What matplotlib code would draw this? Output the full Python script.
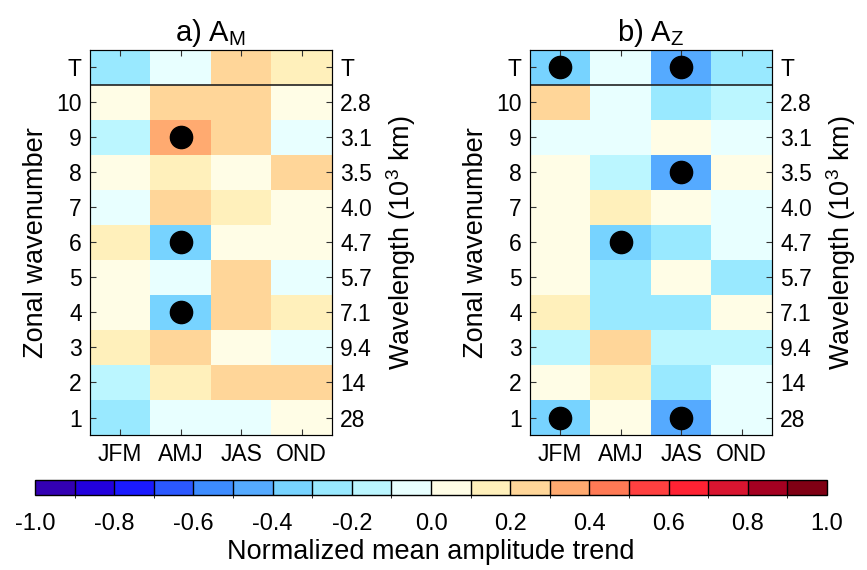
import matplotlib
matplotlib.use("Agg")
import matplotlib.pyplot as plt
import numpy as np
from matplotlib.colors import ListedColormap, BoundaryNorm

plt.rcParams["font.family"] = ["Liberation Sans", "DejaVu Sans"]
plt.rcParams["mathtext.fontset"] = "custom"
plt.rcParams["mathtext.rm"] = "Liberation Sans"

seasons = ["JFM", "AMJ", "JAS", "OND"]
row_labels = ["1", "2", "3", "4", "5", "6", "7", "8", "9", "10", "T"]
wavelengths = ["28", "14", "9.4", "7.1", "5.7", "4.7", "4.0", "3.5", "3.1", "2.8", "T"]
cbar_ticks = [-1.0, -0.8, -0.6, -0.4, -0.2, 0.0, 0.2, 0.4, 0.6, 0.8, 1.0]
cbar_labels = ["-1.0", "-0.8", "-0.6", "-0.4", "-0.2", "0.0", "0.2", "0.4", "0.6", "0.8", "1.0"]

# trends, rows listed top (T) to bottom (1)
trend_am = [
    [-0.25, -0.05, 0.25, 0.15],   # T
    [0.05, 0.25, 0.25, 0.05],     # 10
    [-0.15, 0.35, 0.25, -0.05],   # 9
    [0.05, 0.15, 0.05, 0.25],     # 8
    [-0.05, 0.25, 0.15, 0.05],    # 7
    [0.15, -0.35, 0.05, 0.05],    # 6
    [0.05, -0.05, 0.25, -0.05],   # 5
    [0.05, -0.35, 0.25, 0.15],    # 4
    [0.15, 0.25, 0.05, -0.05],    # 3
    [-0.15, 0.15, 0.25, 0.25],    # 2
    [-0.25, -0.05, -0.05, 0.05],  # 1
]
trend_az = [
    [-0.35, -0.05, -0.45, -0.25],  # T
    [0.25, -0.05, -0.25, -0.15],   # 10
    [-0.05, -0.05, 0.05, -0.05],   # 9
    [0.05, -0.15, -0.45, 0.05],    # 8
    [0.05, 0.15, 0.05, -0.05],     # 7
    [0.05, -0.35, -0.25, -0.05],   # 6
    [0.05, -0.25, 0.05, -0.25],    # 5
    [0.15, -0.25, -0.25, 0.05],    # 4
    [-0.15, 0.25, -0.15, -0.15],   # 3
    [0.05, 0.15, -0.25, -0.05],    # 2
    [-0.35, 0.05, -0.45, -0.05],   # 1
]
# significant cells: (season index, row label)
signif_am = [(1, "9"), (1, "6"), (1, "4")]
signif_az = [(0, "T"), (2, "T"), (2, "8"), (1, "6"), (0, "1"), (2, "1")]

palette = ["#3300b3", "#2200dd", "#1a1aff", "#2b58ff", "#3d8cff",
           "#55aaff", "#77d3ff", "#99e9ff", "#bbf6ff", "#e8ffff",
           "#fffde6", "#fff0bb", "#ffd699", "#ffaa70", "#ff7a55",
           "#ff4040", "#ff2233", "#d91530", "#a50021", "#800014"]
cmap = ListedColormap(palette)
bounds = np.linspace(-1, 1, 21)
norm = BoundaryNorm(bounds, cmap.N)

fig = plt.figure(figsize=(8.67, 5.70), dpi=100)

def panel(rect, data, signif, title):
    ax = fig.add_axes(rect)
    z = np.array(data)[::-1]
    xe = np.arange(len(seasons) + 1) - 0.5
    ye = np.arange(len(row_labels) + 1) + 0.5
    ax.pcolormesh(xe, ye, z, cmap=cmap, norm=norm)
    ax.axhline(10.5, color="#222222", lw=1.2)
    xs = [s for s, r in signif]
    ys = [row_labels.index(r) + 1 for s, r in signif]
    ax.plot(xs, ys, "o", color="black", ms=16, ls="none")
    ax.set_xlim(-0.5, 3.5)
    ax.set_ylim(0.5, 11.5)
    ax.set_xticks(range(len(seasons)))
    ax.set_xticklabels(seasons)
    ax.set_yticks(range(1, len(row_labels) + 1))
    ax.set_yticklabels(row_labels)
    ax.tick_params(direction="in", top=True, length=4, labelsize=16.5, pad=6, color="#333333")
    ax.set_ylabel("Zonal wavenumber", fontsize=19.5, labelpad=5)
    ax.set_title(title, fontsize=21, pad=6)
    for sp in ax.spines.values():
        sp.set_color("#333333")
    ax2 = ax.twinx()
    ax2.set_ylim(0.5, 11.5)
    ax2.set_yticks(range(1, len(wavelengths) + 1))
    ax2.set_yticklabels(wavelengths)
    ax2.tick_params(direction="in", length=4, labelsize=16.5, pad=6, color="#333333")
    ax2.set_ylabel("Wavelength (10$^3$ km)", fontsize=19.5, labelpad=9)
    return ax

panel([0.1038, 0.2368, 0.279, 0.676], trend_am, signif_am, "a) A$_\\mathregular{M}$")
panel([0.6113, 0.2368, 0.279, 0.676], trend_az, signif_az, "b) A$_\\mathregular{Z}$")

cax = fig.add_axes([0.0404, 0.1316, 0.9135, 0.0263])
sm = plt.cm.ScalarMappable(cmap=cmap, norm=norm)
cb = fig.colorbar(sm, cax=cax, orientation="horizontal", drawedges=True, ticks=cbar_ticks)
cb.ax.set_xticklabels(cbar_labels)
cb.dividers.set_linewidth(1)
cb.outline.set_linewidth(1)
cb.ax.tick_params(length=0, labelsize=17, pad=13)
cb.set_label("Normalized mean amplitude trend", fontsize=19.5, labelpad=3)

fig.savefig("out.png", dpi=100)
